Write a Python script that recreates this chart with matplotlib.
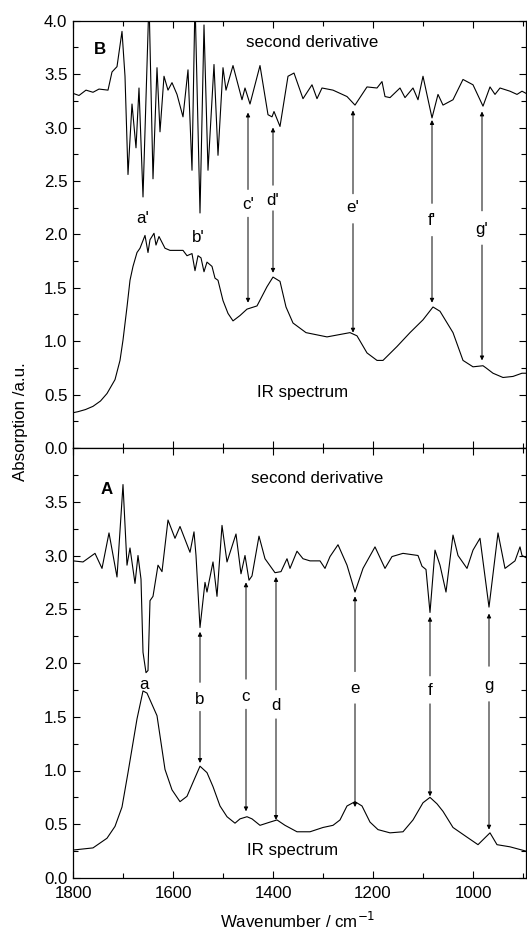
import matplotlib
matplotlib.use("Agg")
import matplotlib.pyplot as plt
from matplotlib.ticker import MultipleLocator, FormatStrFormatter

plt.rcParams['font.family'] = ['Liberation Sans', 'DejaVu Sans']

# ---------------- Panel B data ----------------
b_ir_x = [1800, 1790, 1775, 1760, 1745, 1732, 1716, 1706, 1700, 1692, 1686, 1680, 1672, 1666, 1656, 1650,
          1646, 1638, 1634, 1628, 1616, 1606, 1580, 1572, 1562, 1556, 1550, 1544, 1538, 1532, 1522, 1516,
          1510, 1500, 1490, 1480, 1466, 1452, 1432, 1412, 1400, 1386, 1374, 1360, 1334, 1292, 1246, 1232,
          1212, 1192, 1180, 1152, 1126, 1100, 1080, 1066, 1040, 1020, 1000, 980, 974, 960, 940, 920, 902, 894]
b_ir_y = [0.33, 0.34, 0.36, 0.39, 0.44, 0.51, 0.64, 0.82, 1.01, 1.32, 1.57, 1.70, 1.83, 1.87, 1.99, 1.83,
          1.95, 2.01, 1.90, 1.98, 1.87, 1.85, 1.85, 1.80, 1.82, 1.66, 1.80, 1.78, 1.65, 1.74, 1.70, 1.59,
          1.57, 1.38, 1.26, 1.19, 1.24, 1.30, 1.33, 1.51, 1.60, 1.56, 1.32, 1.17, 1.08, 1.04, 1.08, 1.05,
          0.89, 0.82, 0.82, 0.95, 1.08, 1.20, 1.32, 1.28, 1.08, 0.82, 0.76, 0.77, 0.75, 0.70, 0.66, 0.67, 0.70, 0.70]

b_d2_x = [1800, 1788, 1774, 1760, 1748, 1730, 1722, 1712, 1702, 1696, 1690, 1682, 1674, 1668, 1660, 1648,
          1640, 1632, 1626, 1618, 1610, 1602, 1592, 1580, 1570, 1562, 1556, 1546, 1538, 1530, 1518, 1510,
          1500, 1494, 1480, 1462, 1456, 1446, 1426, 1410, 1402, 1398, 1386, 1370, 1358, 1340, 1322, 1312,
          1302, 1280, 1252, 1236, 1212, 1192, 1182, 1176, 1166, 1146, 1136, 1120, 1110, 1100, 1082, 1070,
          1060, 1040, 1020, 1000, 980, 966, 956, 946, 926, 912, 902, 894]
b_d2_y = [3.32, 3.30, 3.35, 3.33, 3.36, 3.35, 3.52, 3.57, 3.90, 3.48, 2.56, 3.22, 2.81, 3.37, 2.35, 4.20,
          2.52, 3.56, 2.96, 3.48, 3.35, 3.42, 3.31, 3.10, 3.54, 2.60, 4.20, 2.20, 3.96, 2.60, 3.59, 2.74,
          3.56, 3.35, 3.58, 3.26, 3.37, 3.22, 3.58, 3.12, 3.10, 3.15, 3.01, 3.48, 3.51, 3.27, 3.40, 3.27,
          3.37, 3.35, 3.29, 3.21, 3.38, 3.37, 3.43, 3.29, 3.28, 3.37, 3.28, 3.37, 3.26, 3.48, 3.09, 3.31,
          3.21, 3.26, 3.45, 3.40, 3.20, 3.38, 3.31, 3.37, 3.34, 3.31, 3.34, 3.32]

# ---------------- Panel A data ----------------
a_ir_x = [1800, 1760, 1732, 1716, 1702, 1690, 1672, 1660, 1652, 1632, 1616, 1602, 1586, 1572, 1560, 1546,
          1532, 1520, 1506, 1492, 1476, 1466, 1452, 1442, 1426, 1406, 1392, 1376, 1352, 1326, 1300, 1280,
          1266, 1252, 1236, 1222, 1206, 1190, 1166, 1140, 1120, 1100, 1086, 1072, 1060, 1040, 1012, 990,
          966, 952, 926, 902, 894]
a_ir_y = [0.26, 0.28, 0.37, 0.48, 0.66, 0.98, 1.48, 1.74, 1.72, 1.51, 1.01, 0.82, 0.71, 0.76, 0.89, 1.04,
          0.98, 0.85, 0.67, 0.57, 0.51, 0.55, 0.57, 0.55, 0.49, 0.52, 0.54, 0.49, 0.43, 0.43, 0.47, 0.49,
          0.54, 0.67, 0.71, 0.67, 0.52, 0.45, 0.42, 0.43, 0.54, 0.70, 0.75, 0.69, 0.62, 0.47, 0.38, 0.31,
          0.42, 0.31, 0.29, 0.26, 0.25]

a_d2_x = [1800, 1780, 1756, 1742, 1728, 1712, 1700, 1692, 1686, 1676, 1670, 1664, 1660, 1654, 1650, 1646,
          1640, 1630, 1622, 1610, 1596, 1586, 1566, 1558, 1554, 1546, 1536, 1532, 1520, 1512, 1502, 1492,
          1474, 1464, 1456, 1448, 1442, 1428, 1416, 1396, 1384, 1372, 1366, 1352, 1340, 1326, 1306, 1296,
          1286, 1270, 1252, 1236, 1220, 1196, 1176, 1162, 1140, 1110, 1102, 1094, 1086, 1076, 1066, 1054,
          1040, 1030, 1012, 1000, 986, 968, 950, 936, 916, 906, 902, 894]
a_d2_y = [2.95, 2.94, 3.02, 2.88, 3.21, 2.80, 3.66, 2.91, 3.07, 2.74, 3.00, 2.78, 2.10, 1.91, 1.93, 2.58,
          2.62, 2.91, 2.85, 3.33, 3.16, 3.27, 3.03, 3.22, 3.00, 2.33, 2.75, 2.66, 2.94, 2.62, 3.28, 2.94,
          3.20, 2.83, 3.00, 2.77, 2.81, 3.18, 2.97, 2.84, 2.85, 2.97, 2.88, 3.04, 2.97, 2.95, 2.95, 2.88,
          2.99, 3.10, 2.91, 2.66, 2.88, 3.08, 2.88, 2.99, 3.02, 3.00, 2.90, 2.87, 2.47, 3.05, 2.91, 2.66,
          3.19, 3.00, 2.88, 3.05, 3.16, 2.52, 3.21, 2.88, 2.95, 3.08, 3.00, 2.98]

# ---------------- Band labels ----------------
b_labels = ["a'", "b'", "c'", "d'", "e'", "f'", "g'"]
b_label_x = [1660, 1550, 1450, 1400, 1240, 1082, 982]
b_label_y = [2.15, 1.97, 2.28, 2.32, 2.25, 2.13, 2.05]
b_arrow_x = [1450, 1400, 1240, 1082, 982]
b_arrow_up_from = [2.42, 2.46, 2.38, 2.29, 2.22]
b_arrow_up_to = [3.14, 3.00, 3.16, 3.07, 3.15]
b_arrow_dn_from = [2.16, 2.22, 2.10, 1.98, 1.90]
b_arrow_dn_to = [1.36, 1.64, 1.08, 1.36, 0.82]

a_labels = ["a", "b", "c", "d", "e", "f", "g"]
a_label_x = [1658, 1546, 1454, 1394, 1236, 1086, 968]
a_label_y = [1.80, 1.66, 1.69, 1.60, 1.76, 1.74, 1.79]
a_arrow_x = [1546, 1454, 1394, 1236, 1086, 968]
a_arrow_up_from = [1.82, 1.85, 1.75, 1.92, 1.88, 1.97]
a_arrow_up_to = [2.29, 2.75, 2.80, 2.62, 2.43, 2.46]
a_arrow_dn_from = [1.55, 1.57, 1.48, 1.62, 1.62, 1.64]
a_arrow_dn_to = [1.07, 0.62, 0.54, 0.66, 0.76, 0.45]

FS = 12.2
W, H = 527, 934
fig = plt.figure(figsize=(W / 100, H / 100), dpi=100)
left = 73 / W
right = 526 / W
y_top = 1 - 20.7 / H
y_mid = 1 - 448 / H
y_bot = 1 - 878 / H
axB = fig.add_axes([left, y_mid, right - left, y_top - y_mid])
axA = fig.add_axes([left, y_bot, right - left, y_mid - y_bot], sharex=axB)

arrow_kw = dict(arrowstyle='-|>', lw=0.7, color='k', mutation_scale=6,
                shrinkA=0, shrinkB=0)


def style(ax):
    ax.set_xlim(1800, 894)
    ax.set_ylim(0, 4.0)
    ax.xaxis.set_major_locator(MultipleLocator(200))
    ax.xaxis.set_minor_locator(MultipleLocator(100))
    ax.yaxis.set_major_locator(MultipleLocator(0.5))
    ax.yaxis.set_minor_locator(MultipleLocator(0.25))
    ax.tick_params(which='both', direction='in', top=True, right=True,
                   labelsize=FS, width=0.8)
    ax.tick_params(which='major', length=5)
    ax.tick_params(which='minor', length=3.5)
    ax.tick_params(axis='x', pad=5.5)
    ax.tick_params(axis='y', pad=4)
    ax.yaxis.set_major_formatter(FormatStrFormatter('%.1f'))
    for s in ax.spines.values():
        s.set_linewidth(0.9)


for ax in (axB, axA):
    style(ax)

# Panel B
axB.plot(b_ir_x, b_ir_y, color='k', lw=0.8)
axB.plot(b_d2_x, b_d2_y, color='k', lw=0.8)
axB.tick_params(labelbottom=False)
for lab, x, y in zip(b_labels, b_label_x, b_label_y):
    axB.text(x, y, lab, ha='center', va='center', fontsize=FS)
for x, f0, t0, f1, t1 in zip(b_arrow_x, b_arrow_up_from, b_arrow_up_to, b_arrow_dn_from, b_arrow_dn_to):
    axB.annotate('', xy=(x, t0), xytext=(x, f0), arrowprops=arrow_kw)
    axB.annotate('', xy=(x, t1), xytext=(x, f1), arrowprops=arrow_kw)
axB.text(1322, 3.8, 'second derivative', ha='center', va='center', fontsize=FS)
axB.text(1340, 0.52, 'IR spectrum', ha='center', va='center', fontsize=FS)
axB.text(1746, 3.73, 'B', ha='center', va='center', fontsize=FS, fontweight='bold')

# Panel A
axA.plot(a_ir_x, a_ir_y, color='k', lw=0.8)
axA.plot(a_d2_x, a_d2_y, color='k', lw=0.8)
axA.set_yticks([0, 0.5, 1.0, 1.5, 2.0, 2.5, 3.0, 3.5])
for lab, x, y in zip(a_labels, a_label_x, a_label_y):
    axA.text(x, y, lab, ha='center', va='center', fontsize=FS)
for x, f0, t0, f1, t1 in zip(a_arrow_x, a_arrow_up_from, a_arrow_up_to, a_arrow_dn_from, a_arrow_dn_to):
    axA.annotate('', xy=(x, t0), xytext=(x, f0), arrowprops=arrow_kw)
    axA.annotate('', xy=(x, t1), xytext=(x, f1), arrowprops=arrow_kw)
axA.text(1312, 3.72, 'second derivative', ha='center', va='center', fontsize=FS)
axA.text(1360, 0.26, 'IR spectrum', ha='center', va='center', fontsize=FS)
axA.text(1732, 3.61, 'A', ha='center', va='center', fontsize=FS, fontweight='bold')

fig.text(298 / W, 0.003, 'Wavenumber / cm$^{-1}$', ha='center', va='bottom', fontsize=FS)
fig.text(21 / W, 1 - 422 / H, 'Absorption /a.u.', rotation=90, ha='center', va='center', fontsize=FS)

fig.savefig('out.png', dpi=100)
